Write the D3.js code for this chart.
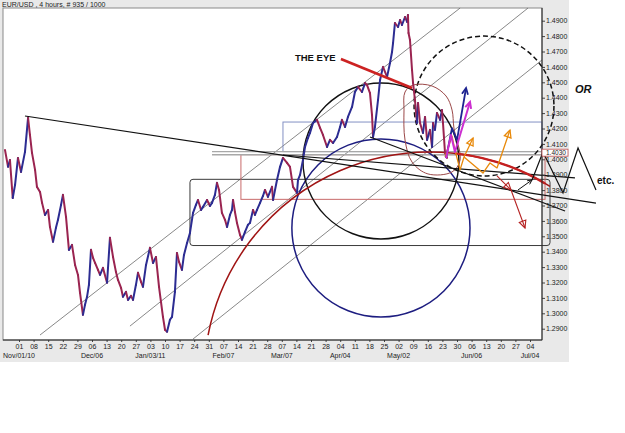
<!DOCTYPE html>
<html><head><meta charset="utf-8">
<script src="https://cdn.jsdelivr.net/npm/d3@7"></script>
<style>body{margin:0;background:#fff}svg{display:block}text{font-family:"Liberation Sans",Arial,sans-serif}</style>
</head><body><svg id="c" width="625" height="433"></svg>
<script>
// ---------- data (x in weeks since Nov 01 2010, y = EUR/USD price) ----------
const weekLabels = ["01","08","15","22","29","06","13","20","27","03","10","17","24","31","07","14","21","28","07","14","21","28","04","11","18","25","02","09","16","23","30","06","13","20","27","04"];
const monthLabels = ["Nov/01/10","Dec/06","Jan/03/11","Feb/07","Mar/07","Apr/04","May/02","Jun/06","Jul/04"];
const monthWeeks = [0,5,9,14,18,22,26,31,35];
const priceTicks = [1.29,1.30,1.31,1.32,1.33,1.34,1.35,1.36,1.37,1.38,1.39,1.40,1.41,1.42,1.43,1.44,1.45,1.46,1.47,1.48,1.49];
const title = "EUR/USD , 4 hours, # 935 / 1000";

const priceSeries = [
[-0.96,1.4061],[-0.75,1.3951],[-0.62,1.3996],[-0.43,1.3749],[-0.27,1.3834],[-0.07,1.4009],[0.14,1.3918],[0.41,1.4048],[0.62,1.4269],[0.75,1.4159],
[0.89,1.4042],[1.10,1.3931],[1.23,1.3821],[1.44,1.3788],[1.58,1.3717],[1.78,1.3639],[1.99,1.3671],[2.12,1.3561],[2.33,1.3464],[2.53,1.3555],
[2.67,1.3607],[2.88,1.3704],[3.01,1.3769],[3.22,1.3626],[3.42,1.3412],[3.63,1.3444],[3.84,1.3314],[4.04,1.3249],[4.18,1.3133],[4.38,1.2990],
[4.52,1.3055],[4.66,1.3107],[4.79,1.3185],[4.93,1.3412],[5.07,1.3360],[5.21,1.3327],[5.41,1.3282],[5.55,1.3250],[5.75,1.3295],[6.03,1.3198],
[6.23,1.3490],[6.44,1.3366],[6.64,1.3269],[6.78,1.3217],[6.99,1.3165],[7.12,1.3107],[7.33,1.3139],[7.47,1.3087],[7.67,1.3113],[7.81,1.3087],
[8.01,1.3185],[8.15,1.3263],[8.36,1.3204],[8.49,1.3172],[8.70,1.3314],[8.97,1.3425],[9.18,1.3327],[9.38,1.3366],[9.59,1.3172],[9.86,1.2977],
[10.00,1.2893],[10.14,1.2880],[10.34,1.2958],[10.48,1.2977],[10.68,1.3139],[10.82,1.3392],[10.96,1.3334],[11.16,1.3282],[11.30,1.3379],[11.51,1.3457],
[11.71,1.3522],[11.92,1.3652],[12.12,1.3704],[12.26,1.3736],[12.47,1.3671],[12.60,1.3691],[12.88,1.3736],[13.08,1.3697],[13.22,1.3717],[13.42,1.3769],
[13.56,1.3847],[13.70,1.3801],[13.90,1.3652],[14.11,1.3607],[14.25,1.3561],[14.45,1.3639],[14.59,1.3671],[14.66,1.3736],[14.79,1.3658],[14.93,1.3587],
[15.14,1.3509],[15.27,1.3477],[15.48,1.3529],[15.68,1.3574],[15.82,1.3587],[16.03,1.3671],[16.16,1.3639],[16.30,1.3671],[16.51,1.3717],[16.71,1.3762],
[16.85,1.3801],[17.05,1.3756],[17.33,1.3821],[17.40,1.3736],[17.67,1.3866],[17.88,1.3951],[18.08,1.4009],[18.36,1.3977],[18.56,1.3951],[18.77,1.3821],
[19.04,1.3782],[19.11,1.3866],[19.25,1.3899],[19.45,1.3996],[19.59,1.4080],[19.79,1.4138],[19.93,1.4171],[20.14,1.4236],[20.41,1.4256],[20.62,1.4204],
[20.82,1.4158],[21.10,1.4080],[21.30,1.4126],[21.51,1.4106],[21.78,1.4145],[21.99,1.4210],[22.12,1.4256],[22.33,1.4210],[22.53,1.4275],[22.81,1.4340],
[23.01,1.4437],[23.22,1.4470],[23.49,1.4437],[23.70,1.4495],[23.84,1.4482],[24.04,1.4430],[24.18,1.4287],[24.25,1.4145],[24.38,1.4210],[24.59,1.4385],
[24.73,1.4515],[24.93,1.4600],[25.21,1.4535],[25.41,1.4625],[25.55,1.4697],[25.62,1.4755],[25.75,1.4885],[25.96,1.4859],[26.10,1.4905],[26.23,1.4872],
[26.44,1.4924],[26.58,1.4892],[26.64,1.4937],[26.68,1.4820],[26.78,1.4775],[26.92,1.4580],[26.99,1.4496],[27.12,1.4385],[27.26,1.4236],[27.33,1.4366],
[27.47,1.4236],[27.67,1.4171],[27.81,1.4275],[27.95,1.4126],[28.15,1.4191],[28.29,1.4080],[28.36,1.4236],[28.49,1.4191],[28.63,1.4301],[28.84,1.4256],
[28.97,1.4320],[29.04,1.4236],[29.18,1.4041],[29.32,1.4009]
];

// annotations (all in weeks / price)
const channelLines = [[[1.44,1.2859],[30.21,1.4982]],[[7.60,1.2917],[34.86,1.4982]],[[11.92,1.2833],[35.82,1.4645]]];
const trendLines = [[[0.41,1.4281],[39.52,1.3716]],[[24.04,1.4145],[37.40,1.3664]],[[18.08,1.4028],[38.08,1.3879]]];
const levelPrices = [1.4050,1.4030];
const levelSpan = [13.22,36.03];
const blackBox = [11.71,36.37,1.3870,1.3440];
const redBox = [15.20,36.03,1.4030,1.3740];
const blueBox = [18.08,35.82,1.4242,1.4050];
const blackCircle = [24.79,1.3989,5.34];
const navyCircle = [24.79,1.3554,6.10];
const dashedCircle = [31.85,1.4346,4.79];
const redArc = {center:[28.15,1.2580], r:15.48, span:[12.95,36.37], thick:[29.86,36.03]};
const eyeLasso = [[26.44,1.4437],[26.99,1.4482],[28.29,1.4476],[29.25,1.4411],[29.66,1.4320],[29.79,1.4203],[30.21,1.3995],[29.66,1.3918],[28.01,1.3905],[26.92,1.3982],[26.44,1.4125],[26.37,1.4320]];
const eyePointer = [[22.05,1.4651],[26.92,1.4463]];
const navyPath = [[29.25,1.4008],[29.66,1.4203],[30.00,1.4125],[30.62,1.4463]];
const magentaPath = [[29.25,1.4008],[29.59,1.4158],[29.86,1.4047],[30.89,1.4372]];
const orangePath1 = [[29.18,1.4015],[29.66,1.4151],[29.86,1.4060],[30.21,1.3931],[30.48,1.4015],[31.10,1.4138]];
const orangePath2 = [[30.48,1.4015],[31.78,1.3911],[32.26,1.3976],[32.74,1.3944],[33.63,1.4190]];
const redPath = [[32.74,1.3892],[33.70,1.3801],[34.66,1.3554]];
const blackArrow = [[34.18,1.3801],[35.14,1.3866]];
const zigzag = [[35.14,1.3866],[35.89,1.4047],[37.26,1.3781],[38.29,1.4073],[39.52,1.3801]];
const notes = [{t:"THE EYE",w:18.90,p:1.4638},{t:"OR",w:38.08,p:1.4431},{t:"etc.",w:39.59,p:1.3840}];
const boxedLevel = 1.4030;

// ---------- drawing ----------
const svg = d3.select('#c');
const x = d3.scaleLinear().domain([0,35]).range([19,530]);
const y = d3.scaleLinear().domain([1.29,1.49]).range([328.7,20.7]);
const P = d => [x(d[0]), y(d[1])];
const line = d3.line().x(d=>x(d[0])).y(d=>y(d[1]));
const plot = {l:3, t:8, r:542, b:340};

svg.append('rect').attr('width',625).attr('height',433).attr('fill','#fff');
svg.append('rect').attr('width',569).attr('height',362).attr('fill','#e9e9e9');
svg.append('rect').attr('x',plot.l).attr('y',plot.t).attr('width',plot.r-plot.l).attr('height',plot.b-plot.t)
  .attr('fill','#fff').attr('stroke','#8a8a8a').attr('stroke-width',1);

svg.append('text').attr('x',2).attr('y',6.5).attr('font-size',7).attr('fill','#222').text(title);

const g = svg.append('g');

channelLines.forEach(l => g.append('path').attr('d',line(l)).attr('stroke','#6a6a6a').attr('stroke-width',0.8).attr('fill','none'));

function box(b, color, rx){
  g.append('rect').attr('x',x(b[0])).attr('y',y(b[2])).attr('width',x(b[1])-x(b[0])).attr('height',y(b[3])-y(b[2]))
   .attr('rx',rx).attr('fill','none').attr('stroke',color).attr('stroke-width',1);
}
box(blackBox,'#3a3a3a',3);
box(redBox,'#c86a6a',0);
box(blueBox,'#8390c4',0);
levelPrices.forEach(p => g.append('line').attr('x1',x(levelSpan[0])).attr('x2',x(levelSpan[1])).attr('y1',y(p)).attr('y2',y(p))
  .attr('stroke','#a8a8a8').attr('stroke-width',1.4));

function circ(c, color, sw, dash){
  const el = g.append('circle').attr('cx',x(c[0])).attr('cy',y(c[1])).attr('r',x(c[0]+c[2])-x(c[0]))
    .attr('fill','none').attr('stroke',color).attr('stroke-width',sw);
  if(dash) el.attr('stroke-dasharray',dash);
}
circ(navyCircle,'#1d1d80',1.5);
circ(blackCircle,'#111',1.4);
circ(dashedCircle,'#111',1.5,'5,3');

function arcPath(x0w, x1w){
  const cx = x(redArc.center[0]), cy = y(redArc.center[1]), r = x(redArc.center[0]+redArc.r)-cx;
  const pt = w => { const px = x(w); return [px, cy - Math.sqrt(Math.max(0, r*r-(px-cx)*(px-cx)))]; };
  const a = pt(x0w), b = pt(x1w);
  return `M${a[0]},${a[1]}A${r},${r} 0 0 1 ${b[0]},${b[1]}`;
}
g.append('path').attr('d',arcPath(redArc.span[0],redArc.span[1])).attr('fill','none').attr('stroke','#a01414').attr('stroke-width',1.5);

g.append('path').attr('d',d3.line().x(d=>x(d[0])).y(d=>y(d[1])).curve(d3.curveCatmullRomClosed)(eyeLasso))
  .attr('fill','none').attr('stroke','#9b4848').attr('stroke-width',1);

const pg = g.append('g');
for(let i=1;i<priceSeries.length;i++){
  const a = P(priceSeries[i-1]), b = P(priceSeries[i]);
  pg.append('line').attr('x1',a[0]).attr('y1',a[1]).attr('x2',b[0]).attr('y2',b[1])
    .attr('stroke', priceSeries[i][1] >= priceSeries[i-1][1] ? '#2c2c92' : '#9a2450')
    .attr('stroke-width',2).attr('stroke-linecap','round');
}

trendLines.forEach(l => g.append('path').attr('d',line(l)).attr('stroke','#111').attr('stroke-width',1.2).attr('fill','none'));

g.append('path').attr('d',arcPath(redArc.thick[0],redArc.thick[1])).attr('fill','none').attr('stroke','#c42020').attr('stroke-width',2.4);

function head(p0, p1, size, color, type, sw){
  const a = Math.atan2(p1[1]-p0[1], p1[0]-p0[0]);
  const l = [p1[0]-size*Math.cos(a-0.45), p1[1]-size*Math.sin(a-0.45)];
  const r = [p1[0]-size*Math.cos(a+0.45), p1[1]-size*Math.sin(a+0.45)];
  const d = type==='v' ? `M${l}L${p1}L${r}` : `M${p1}L${l}L${r}Z`;
  g.append('path').attr('d',d).attr('fill','none').attr('stroke',color).attr('stroke-width',sw).attr('stroke-linejoin','miter');
}
function arrowPath(pts, color, sw, type, size, midHeads){
  g.append('path').attr('d',line(pts)).attr('fill','none').attr('stroke',color).attr('stroke-width',sw).attr('stroke-linejoin','round');
  const n = pts.length;
  head(P(pts[n-2]), P(pts[n-1]), size, color, type, sw);
  (midHeads||[]).forEach(i => head(P(pts[i-1]), P(pts[i]), size, color, type, sw));
}
arrowPath(orangePath1,'#e8890a',1.3,'tri',8);
arrowPath(orangePath2,'#e8890a',1.3,'tri',8);
arrowPath(redPath,'#b52323',1.1,'tri',8,[1]);
arrowPath(navyPath,'#1e2490',1.8,'v',7);
arrowPath(magentaPath,'#cc2fd0',2,'v',7);
arrowPath(blackArrow,'#111',1,'v',5);
g.append('path').attr('d',line(zigzag)).attr('fill','none').attr('stroke','#111').attr('stroke-width',1.2);

g.append('path').attr('d',line(eyePointer)).attr('stroke','#cc2222').attr('stroke-width',2.6).attr('fill','none');

// axes
const ay = svg.append('g').attr('transform',`translate(${plot.r},0)`)
  .call(d3.axisRight(y).tickValues(priceTicks).tickSize(3).tickSizeOuter(0).tickPadding(1).tickFormat(d3.format('.4f')));
ay.select('.domain').remove();
ay.selectAll('text').attr('font-size',7).attr('fill','#222').attr('font-family','Liberation Sans, Arial, sans-serif');
ay.selectAll('line').attr('stroke','#444');
svg.append('line').attr('x1',plot.r).attr('x2',plot.r).attr('y1',plot.t).attr('y2',plot.b).attr('stroke','#222');

const ax = svg.append('g').attr('transform',`translate(0,${plot.b})`)
  .call(d3.axisBottom(x).tickValues(d3.range(weekLabels.length)).tickSize(2).tickSizeOuter(0).tickPadding(2).tickFormat((d,i)=>weekLabels[i]));
ax.select('.domain').remove();
ax.selectAll('text').attr('font-size',7).attr('fill','#222').attr('font-family','Liberation Sans, Arial, sans-serif');
ax.selectAll('line').attr('stroke','#444');
svg.append('line').attr('x1',plot.l).attr('x2',plot.r).attr('y1',plot.b).attr('y2',plot.b).attr('stroke','#222');

svg.selectAll('.month').data(monthLabels).enter().append('text')
  .attr('x',(d,i)=>x(monthWeeks[i])).attr('y',358).attr('text-anchor','middle')
  .attr('font-size',7).attr('fill','#222').text(d=>d);

// boxed level label (sits just above the 1.4000 tick label)
const by = y(boxedLevel);
svg.append('rect').attr('x',plot.r).attr('y',by-5.5).attr('width',26).attr('height',7).attr('fill','#fff').attr('stroke','#c05050').attr('stroke-width',0.8);
svg.append('text').attr('x',plot.r+4).attr('y',by+0.5).attr('font-size',6.5).attr('fill','#222').text(d3.format('.4f')(boxedLevel));

svg.selectAll('.note').data(notes).enter().append('text')
  .attr('x',d=>x(d.w)).attr('y',d=>y(d.p))
  .attr('font-size',(d,i)=> i===0 ? 9.5 : (i===1 ? 11 : 10))
  .attr('font-weight','bold').attr('font-style',(d,i)=> i===1 ? 'italic' : 'normal')
  .attr('fill','#111').text(d=>d.t);
</script>
</body></html>
